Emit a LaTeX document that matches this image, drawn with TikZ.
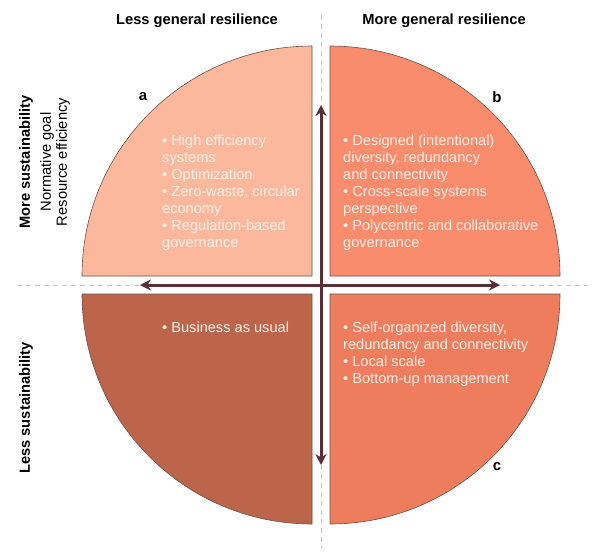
\documentclass[tikz,border=0pt]{standalone}
\usepackage{fontspec}
\setmainfont{Liberation Sans}
\usetikzlibrary{arrows.meta,positioning}
\definecolor{quadA}{HTML}{FCB89C}
\definecolor{quadB}{HTML}{F88C6C}
\definecolor{quadC}{HTML}{EE7D5E}
\definecolor{quadD}{HTML}{BD654B}
\definecolor{axis}{HTML}{5C2D34}
\definecolor{rim}{HTML}{6E5048}
\definecolor{cream}{HTML}{FDF1EA}

\begin{document}
\begin{tikzpicture}[x=1pt,y=1pt,
    head/.style={font=\fontsize{14.7}{17}\selectfont\bfseries},
    side/.style={font=\fontsize{14.7}{16}\selectfont,rotate=90,align=center},
    items/.style={font=\fontsize{14.6}{17}\selectfont,text=cream,anchor=north west,align=left,inner sep=0pt},
    tag/.style={font=\fontsize{15}{16}\selectfont\bfseries},
    axisarrow/.style={axis,line width=3pt,-{Stealth[length=11pt,width=11pt]}}]
  \useasboundingbox (0,0) rectangle (594,-557);
  % guide lines behind everything
  \draw[gray!45,dashed,line width=0.8pt,dash pattern=on 5pt off 4pt] (17,-285) -- (588,-285);
  \draw[gray!45,dashed,line width=0.8pt,dash pattern=on 5pt off 4pt] (321,-15) -- (321,-548);
  % four quarter discs: corner / start angle / colour
  \foreach \qx/\qy/\qang/\qcol in {312/276/90/quadA, 330/276/0/quadB,
      312/294/180/quadD, 330/294/270/quadC} {
    \filldraw[fill=\qcol,draw=rim,line width=0.6pt]
      (\qx,-\qy) -- ++(\qang:230) arc[start angle=\qang,delta angle=90,radius=230] -- cycle;
  }
  % axes
  \coordinate (ctr) at (321,-285);
  \coordinate (wtip) at (140,-285);
  \coordinate (etip) at (500,-285);
  \coordinate (ntip) at (321,-105);
  \coordinate (stip) at (321,-465);
  \draw[axisarrow] (ctr) -- (wtip);
  \draw[axisarrow] (ctr) -- (etip);
  \draw[axisarrow] (ctr) -- (ntip);
  \draw[axisarrow] (ctr) -- (stip);
  % headings
  \node[head] (lessres) at (197,-21) {Less general resilience};
  \node[head] (moreres) at (444,-21) {More general resilience};
  \node[side,font=\fontsize{14.7}{16}\selectfont\bfseries] (moresus) at (26,-162) {More sustainability};
  \node[side] (normgoal) at (55,-162) {Normative goal\\Resource efficiency};
  \node[side,font=\fontsize{14.7}{16}\selectfont\bfseries] (lesssus) at (26,-408) {Less sustainability};
  % panel letters
  \node[tag] (tagA) at (143,-97) {a};
  \node[tag] (tagB) at (497,-97) {b};
  \node[tag] (tagC) at (497,-467) {c};
  % quadrant contents
  \node[items] (txtA) at (162,-135) {• High efficiency\\systems\\• Optimization\\• Zero-waste, circular\\economy\\• Regulation-based\\governance};
  \node[items] (txtB) at (343,-135) {• Designed (intentional)\\diversity, redundancy\\and connectivity\\• Cross-scale systems\\perspective\\• Polycentric and collaborative\\governance};
  \node[items] (txtD) at (162,-322) {• Business as usual};
  \node[items] (txtC) at (343,-322) {• Self-organized diversity,\\redundancy and connectivity\\• Local scale\\• Bottom-up management};
\end{tikzpicture}
\end{document}
